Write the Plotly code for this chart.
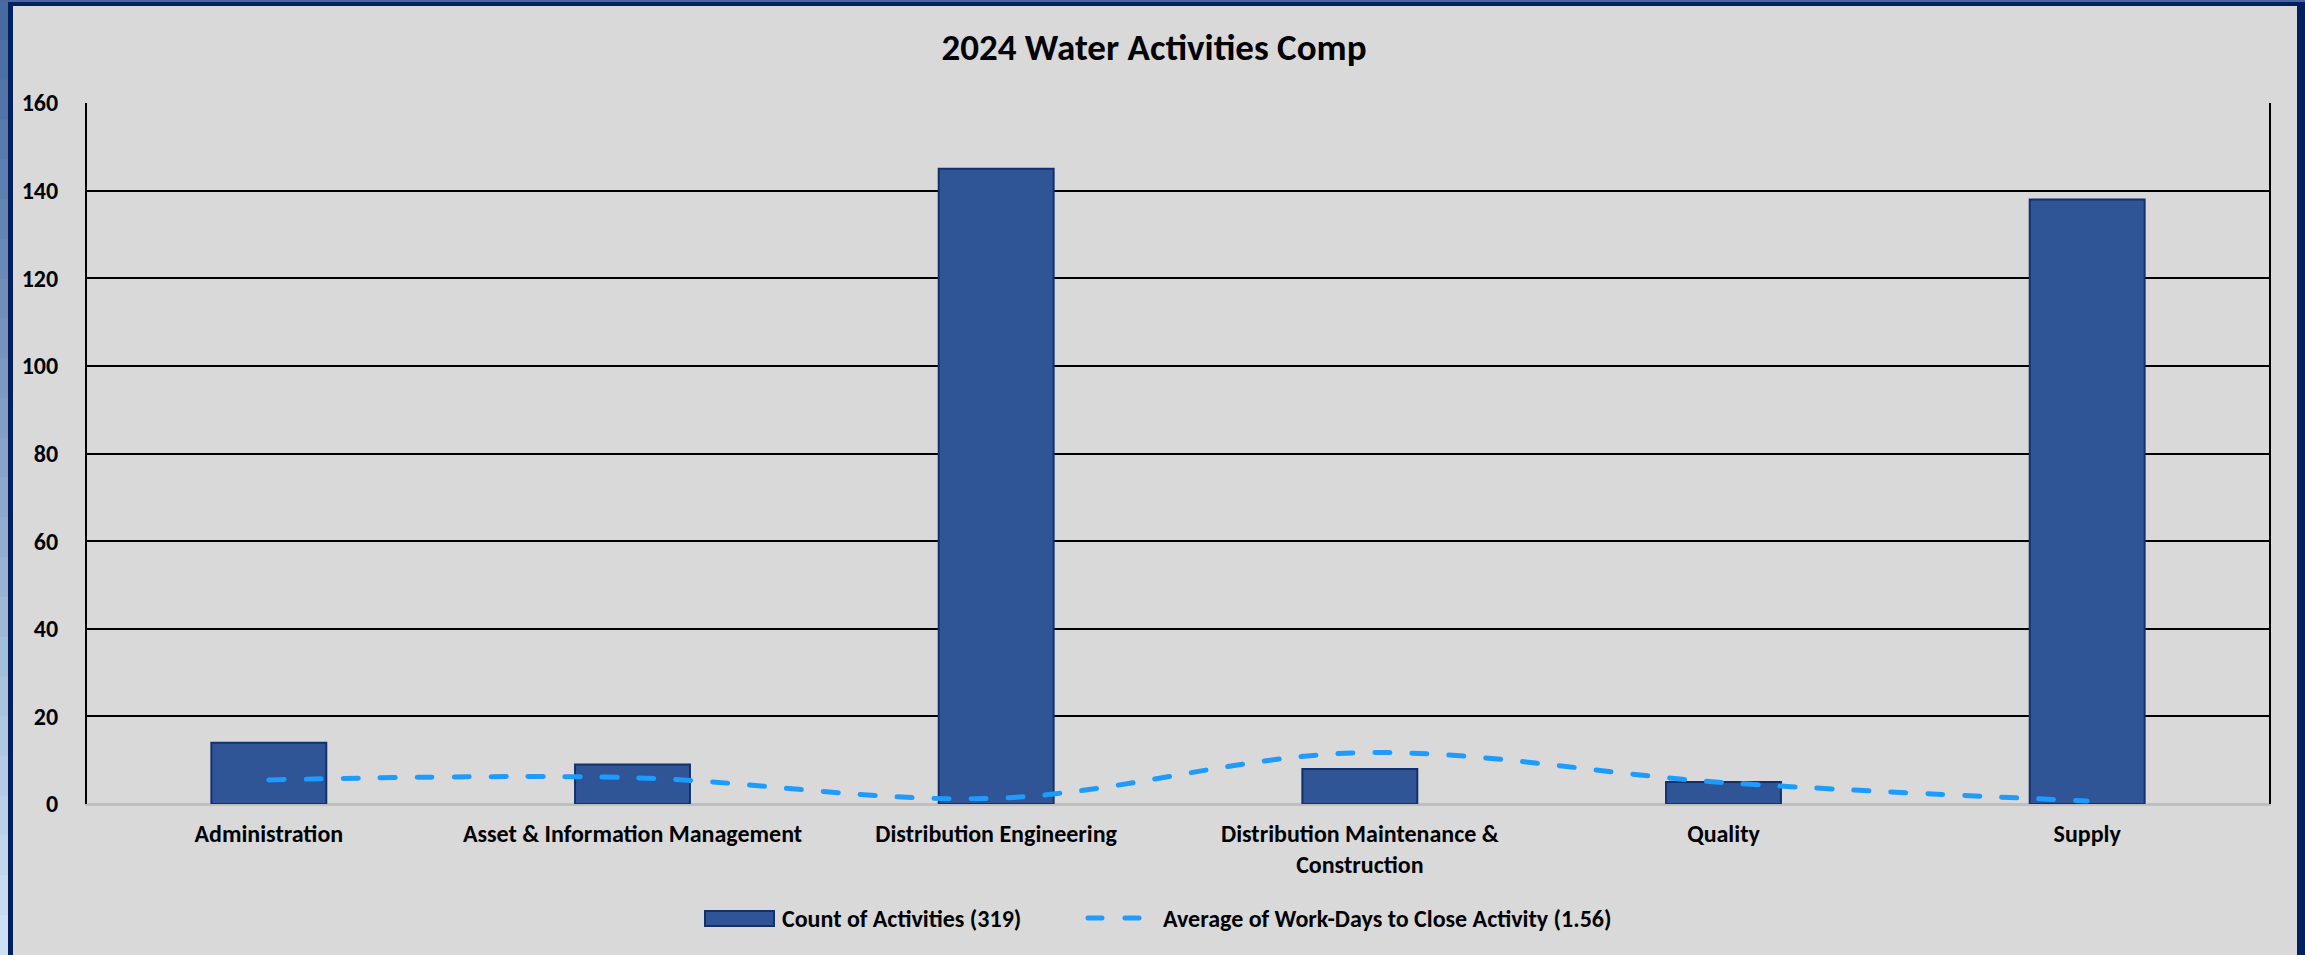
import plotly.graph_objects as go

categories = [
    "Administration",
    "Asset & Information Management",
    "Distribution Engineering",
    "Distribution Maintenance &<br>Construction",
    "Quality",
    "Supply",
]
count_values = [14, 9, 145, 8, 5, 138]
avg_days_values = [5.5, 6.0, 1.3, 11.7, 4.9, 0.7]
y_ticks = [0, 20, 40, 60, 80, 100, 120, 140, 160]
title_text = "2024 Water Activities Comp"
bar_name = "Count of Activities (319)"
line_name = "Average of Work-Days to Close Activity (1.56)"

W, H = 2305, 955
L, R, T, B = 87, 2269, 103, 804
FONT = "Carlito, Lato, sans-serif"
BAR_COLOR = "#2f5597"
BAR_EDGE = "#14306b"
LINE_COLOR = "#1e9bff"
LINE_WIDTH = 5
LINE_DASH = "15px,22px"

fig = go.Figure()
fig.add_trace(go.Bar(
    x=categories, y=count_values, name=bar_name, showlegend=False,
    marker=dict(color=BAR_COLOR, line=dict(color=BAR_EDGE, width=2)),
))
fig.add_trace(go.Scatter(
    x=categories, y=avg_days_values, name=line_name, mode="lines", showlegend=False,
    line=dict(color=LINE_COLOR, width=LINE_WIDTH, dash=LINE_DASH, shape="spline", smoothing=1),
))


def px_x(px):
    return (px - L) / (R - L)


def px_y(py):
    return (B - py) / (B - T)


shapes = []
# slide background gradient strip on the left
top_c = (70, 104, 158)
bot_c = (208, 228, 247)
n = 24
for i in range(n):
    f = (i + 0.5) / n
    c = tuple(int(top_c[k] + (bot_c[k] - top_c[k]) * f) for k in range(3))
    y0 = H * i / n
    y1 = H * (i + 1) / n + 1
    shapes.append(dict(type="rect", xref="paper", yref="paper",
                       x0=px_x(-2), x1=px_x(8), y0=px_y(y1), y1=px_y(y0),
                       fillcolor="rgb(%d,%d,%d)" % c, line=dict(width=0), layer="below"))
shapes.append(dict(type="rect", xref="paper", yref="paper",
                   x0=px_x(-2), x1=px_x(W + 2), y0=px_y(2), y1=px_y(-2),
                   fillcolor="rgb(70,104,158)", line=dict(width=0), layer="below"))
navy = "#002060"
shapes.append(dict(type="rect", xref="paper", yref="paper",
                   x0=px_x(8), x1=px_x(13), y0=px_y(H + 2), y1=px_y(2),
                   fillcolor=navy, line=dict(width=0), layer="below"))
shapes.append(dict(type="rect", xref="paper", yref="paper",
                   x0=px_x(8), x1=px_x(W + 2), y0=px_y(6), y1=px_y(2),
                   fillcolor=navy, line=dict(width=0), layer="below"))
shapes.append(dict(type="rect", xref="paper", yref="paper",
                   x0=px_x(2297), x1=px_x(W + 2), y0=px_y(H + 2), y1=px_y(2),
                   fillcolor=navy, line=dict(width=0), layer="below"))

# legend keys
LEG_Y = 918
shapes.append(dict(type="rect", xref="paper", yref="paper",
                   x0=px_x(705), x1=px_x(774), y0=px_y(926), y1=px_y(911),
                   fillcolor=BAR_COLOR, line=dict(color=BAR_EDGE, width=2)))
shapes.append(dict(type="line", xref="paper", yref="paper",
                   x0=px_x(1088), x1=px_x(1141), y0=px_y(LEG_Y), y1=px_y(LEG_Y),
                   line=dict(color=LINE_COLOR, width=LINE_WIDTH, dash="14px,23px")))

annotations = [
    dict(text="<b>%s</b>" % bar_name, xref="paper", yref="paper",
         x=px_x(780), y=px_y(LEG_Y), xanchor="left", yanchor="middle", showarrow=False,
         font=dict(size=24, family=FONT, color="#000000")),
    dict(text="<b>%s</b>" % line_name, xref="paper", yref="paper",
         x=px_x(1161), y=px_y(LEG_Y), xanchor="left", yanchor="middle", showarrow=False,
         font=dict(size=24, family=FONT, color="#000000")),
]

fig.update_layout(
    width=W, height=H,
    margin=dict(l=L, r=W - R, t=T, b=H - B, pad=0, autoexpand=False),
    paper_bgcolor="#d9d9d9",
    plot_bgcolor="#d9d9d9",
    font=dict(family=FONT, color="#000000"),
    title=dict(text="<b>%s</b>" % title_text, x=px_x(1154), xref="paper",
               y=1 - 47 / H, yref="container", xanchor="center", yanchor="middle",
               font=dict(size=37, family=FONT, color="#000000")),
    bargap=0.684,
    showlegend=False,
    shapes=shapes,
    annotations=annotations,
)
fig.update_xaxes(
    showgrid=False, showline=True, linecolor="#bfbfbf", linewidth=2,
    ticks="", tickfont=dict(size=24, family=FONT, color="#000000"),
    tickvals=categories, ticktext=["<b>%s</b>" % c for c in categories],
    ticklabelstandoff=7,
)
fig.update_yaxes(
    range=[0, 160], tickvals=y_ticks, ticktext=["<b>%d</b>" % v for v in y_ticks],
    showgrid=True, gridcolor="#000000", gridwidth=2,
    zeroline=True, zerolinecolor="#bfbfbf", zerolinewidth=2,
    showline=True, linecolor="#000000", linewidth=2, mirror=True,
    ticks="", tickfont=dict(size=24, family=FONT, color="#000000"),
    ticklabelstandoff=22,
)

post = (
    "document.body.style.margin='0';document.body.style.overflow='hidden';"
    "document.querySelectorAll('.scatterlayer .js-line, .shapelayer path')"
    ".forEach(function(p){p.style.strokeLinecap='round';});"
)
fig.write_html("out.html", config={"displayModeBar": False}, post_script=post)
